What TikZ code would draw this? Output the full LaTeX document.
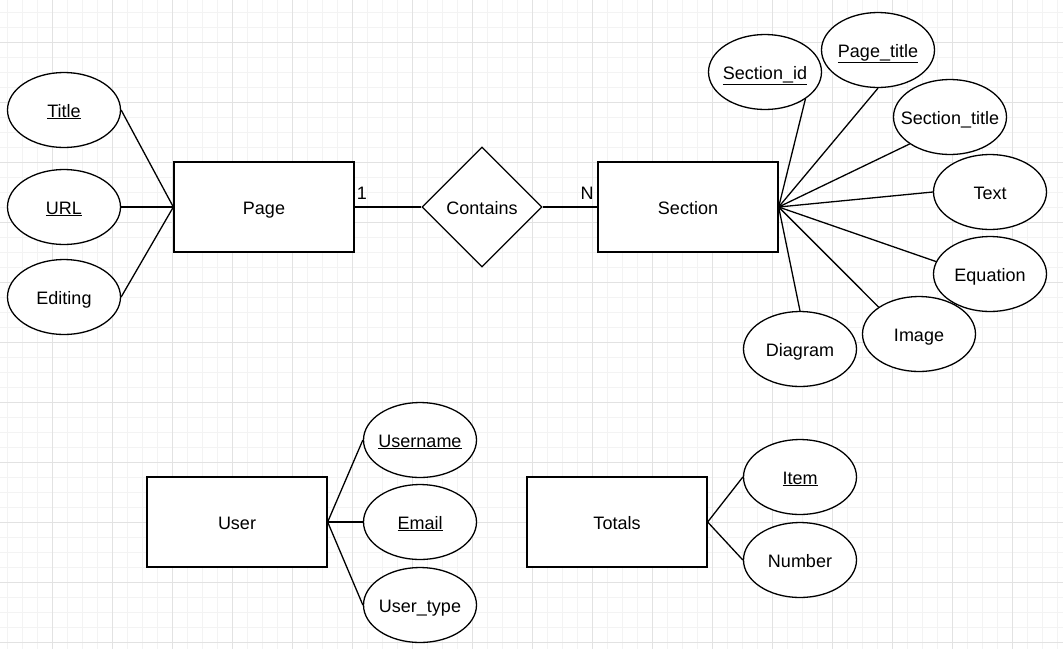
\documentclass[tikz,border=0pt]{standalone}
\usepackage{fontspec}
\setmainfont{Liberation Sans}
\usetikzlibrary{shapes.geometric}
\definecolor{gridminor}{HTML}{F3F3F3}
\definecolor{gridmajor}{HTML}{E2E2E2}
\newcommand{\att}[1]{\makebox[0pt][c]{#1}}
\tikzset{
  every node/.style={font=\fontsize{18}{21}\selectfont, text=black, text height=18pt, text depth=4pt},
  entity/.style={draw=black, line width=1.3pt, fill=white, rectangle, minimum width=180pt, minimum height=90pt, inner sep=0pt},
  attr/.style={draw=black, line width=1.3pt, fill=white, ellipse, minimum width=113pt, minimum height=75pt, inner sep=0pt},
  rel/.style={draw=black, line width=1.3pt, fill=white, diamond, minimum width=120pt, minimum height=120pt, inner sep=0pt},
  conn/.style={draw=black, line width=1.3pt},
  card/.style={inner sep=0pt},
  gminor/.style={draw=gridminor, line width=0.8pt},
  gmajor/.style={draw=gridmajor, line width=0.9pt}
}
\begin{document}
\begin{tikzpicture}[x=1pt, y=-1pt]
\useasboundingbox (0,0) rectangle (1063,649);
\fill[white] (0,0) rectangle (1063,649);
% grid
\foreach \x in {7,22,...,1063} \draw[gminor] (\x,0) -- (\x,649);
\foreach \y in {12,27,...,649} \draw[gminor] (0,\y) -- (1063,\y);
\foreach \x in {52,112,...,1063} \draw[gmajor] (\x,0) -- (\x,649);
\foreach \y in {42,102,...,649} \draw[gmajor] (0,\y) -- (1063,\y);

% Page entity and attributes
\node[entity] (page) at (264,207) {Page};
\node[attr] (title) at (64,110) {\att{\underline{Title}}};
\node[attr] (url) at (64,207) {\att{\underline{URL}}};
\node[attr] (editing) at (64,297) {\att{Editing}};

% relationship
\node[rel] (contains) at (482,207) {\att{Contains}};

% Section entity and attributes
\node[entity] (section) at (688,207) {Section};
\node[attr] (secid) at (765,72) {\att{\underline{Section\_id}}};
\node[attr] (pagetitle) at (878,50) {\att{\underline{Page\_title}}};
\node[attr] (sectitle) at (950,117) {\att{Section\_title}};
\node[attr] (text) at (990,192) {\att{Text}};
\node[attr] (equation) at (990,274) {\att{Equation}};
\node[attr] (image) at (919,334) {\att{Image}};
\node[attr] (diagram) at (800,349) {\att{Diagram}};

% User
\node[entity] (user) at (237,522) {User};
\node[attr] (username) at (420,440) {\att{\underline{Username}}};
\node[attr] (email) at (420,522) {\att{\underline{Email}}};
\node[attr] (usertype) at (420,605) {\att{User\_type}};

% Totals
\node[entity] (totals) at (617,522) {Totals};
\node[attr] (item) at (800,477) {\att{\underline{Item}}};
\node[attr] (number) at (800,560) {\att{Number}};

% connectors
\draw[conn] (title.east) -- (page.west);
\draw[conn] (url.east) -- (page.west);
\draw[conn] (editing.east) -- (page.west);
\draw[conn] (page.east) -- (contains.west);
\draw[conn] (contains.east) -- (section.west);
\draw[conn] (section.east) -- (secid.south east);
\draw[conn] (section.east) -- (pagetitle.south);
\draw[conn] (section.east) -- (sectitle.south west);
\draw[conn] (section.east) -- (text.west);
\draw[conn] (section.east) -- (equation.167);
\draw[conn] (section.east) -- (image.north west);
\draw[conn] (section.east) -- (diagram.north);
\draw[conn] (user.east) -- (username.west);
\draw[conn] (user.east) -- (email.west);
\draw[conn] (user.east) -- (usertype.west);
\draw[conn] (totals.east) -- (item.west);
\draw[conn] (totals.east) -- (number.west);

% cardinalities
\node[card] (c1) at (362,192) {1};
\node[card] (cn) at (587,192) {N};
\end{tikzpicture}
\end{document}
